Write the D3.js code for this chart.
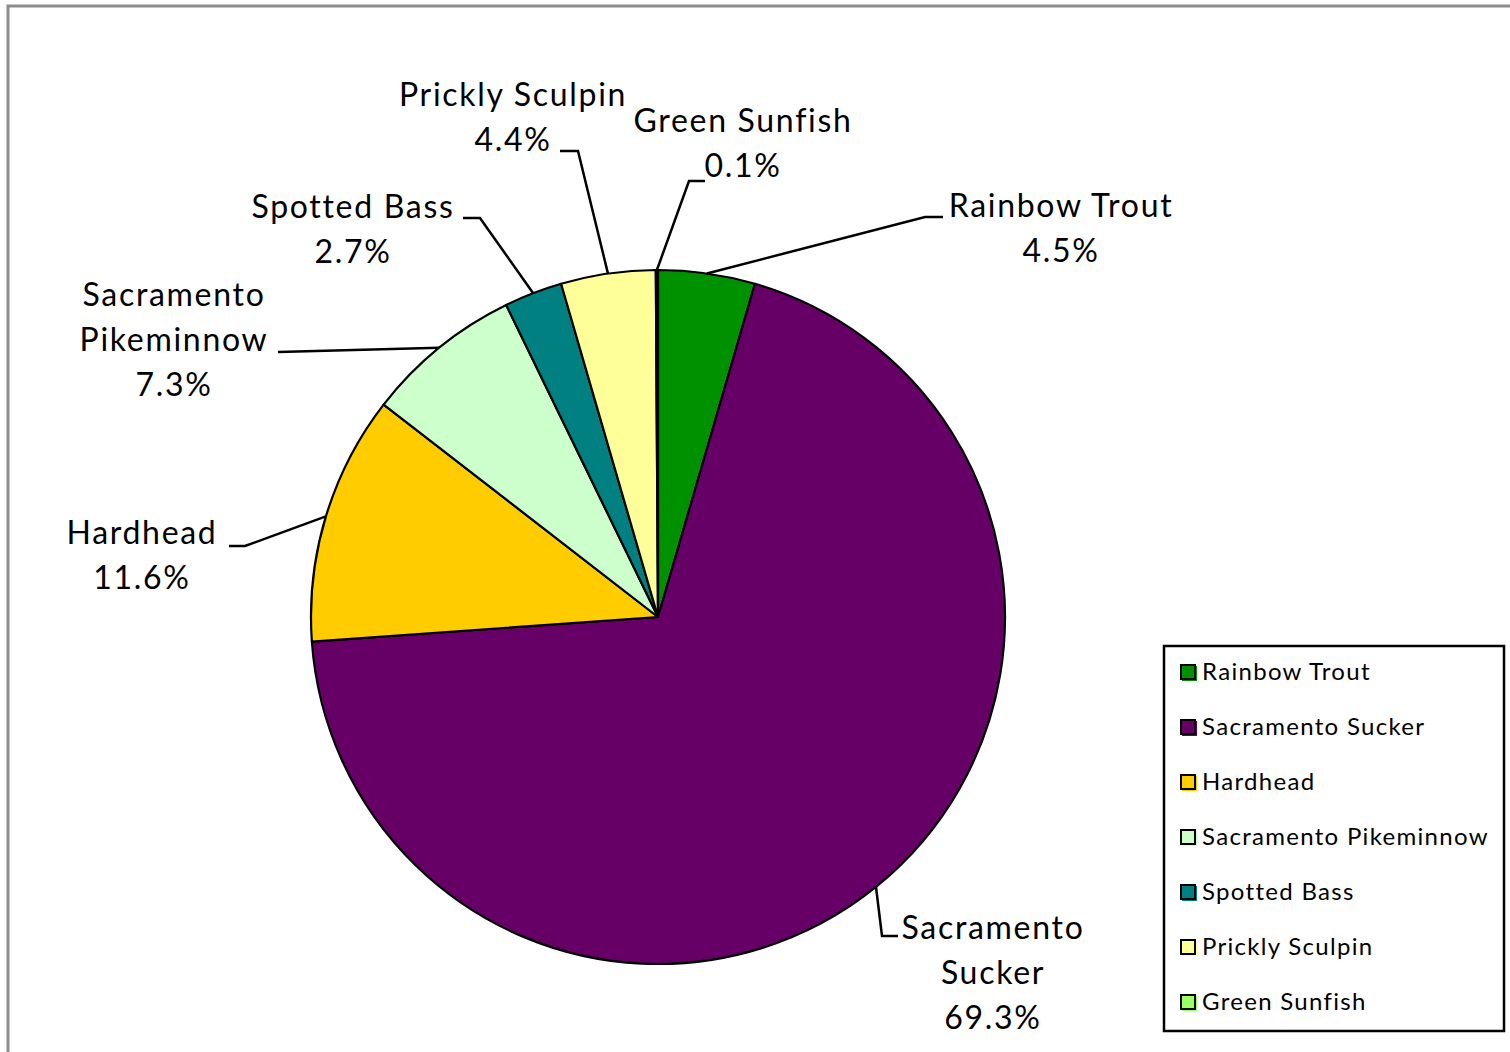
<!DOCTYPE html>
<html>
<head>
<meta charset="utf-8">
<script src="https://cdn.jsdelivr.net/npm/d3@7"></script>
<style>
  body { margin: 0; background: #fff; }
  svg text { font-family: Lato, "Open Sans", sans-serif; fill: #000; }
</style>
</head>
<body>
<div id="chart"></div>
<script>
// Data
const species = ["Rainbow Trout", "Sacramento Sucker", "Hardhead", "Sacramento Pikeminnow",
  "Spotted Bass", "Prickly Sculpin", "Green Sunfish"];
const percents = [4.5, 69.3, 11.6, 7.3, 2.7, 4.4, 0.1];
const colors = ["#009100", "#660066", "#ffcc00", "#ccffcc", "#008080", "#ffff99", "#99ff66"];
// label text lines (name split as drawn on the chart)
const labelLines = [
  ["Rainbow Trout"], ["Sacramento", "Sucker"], ["Hardhead"], ["Sacramento", "Pikeminnow"],
  ["Spotted Bass"], ["Prickly Sculpin"], ["Green Sunfish"]
];

// Label layout: text center x, first baseline y, elbow point and end of leader
const labelLayout = [
  { x: 1061, y: 217, elbow: [925, 217], end: [943, 217] },
  { x: 993, y: 939, elbow: [882, 936], end: [898, 936] },
  { x: 142, y: 544, elbow: [245, 546], end: [229, 546] },
  { x: 174, y: 306, elbow: [278, 352], end: [278, 352] },
  { x: 353, y: 218, elbow: [480, 218], end: [463, 218] },
  { x: 513, y: 106, elbow: [578, 151], end: [560, 151] },
  { x: 743, y: 132, elbow: [689, 181], end: [705, 181] }
];

const W = 1510, H = 1052;
const cx = 658, cy = 617, radius = 347;
const lineH = 45;

const svg = d3.select("#chart").append("svg")
  .attr("width", W)
  .attr("height", H);

// outer frame (cut off at right and bottom)
svg.append("rect")
  .attr("x", 8).attr("y", 6)
  .attr("width", W + 20).attr("height", H + 20)
  .attr("fill", "none")
  .attr("stroke", "#8c8c8c")
  .attr("stroke-width", 3);

const data = species.map((s, i) => ({ name: s, value: percents[i], color: colors[i], i: i }));

const pie = d3.pie().value(d => d.value).sort(null);
const arcs = pie(data);
const arc = d3.arc().innerRadius(0).outerRadius(radius);

const g = svg.append("g").attr("transform", `translate(${cx},${cy})`);

g.selectAll("path")
  .data(arcs)
  .join("path")
  .attr("d", arc)
  .attr("fill", d => d.data.color)
  .attr("stroke", "#000")
  .attr("stroke-width", 2.2)
  .attr("stroke-linejoin", "round");

// leader lines
arcs.forEach(a => {
  const mid = (a.startAngle + a.endAngle) / 2;
  const sx = cx + radius * Math.sin(mid);
  const sy = cy - radius * Math.cos(mid);
  const L = labelLayout[a.data.i];
  svg.append("polyline")
    .attr("points", [[sx, sy], L.elbow, L.end].map(p => p.join(",")).join(" "))
    .attr("fill", "none")
    .attr("stroke", "#000")
    .attr("stroke-width", 2.5);
});

// data labels
arcs.forEach(a => {
  const L = labelLayout[a.data.i];
  const lines = labelLines[a.data.i].concat([d3.format(".1f")(a.data.value) + "%"]);
  const t = svg.append("text")
    .attr("text-anchor", "middle")
    .style("font-size", "32px")
    .style("letter-spacing", "1.7px");
  lines.forEach((ln, k) => {
    t.append("tspan")
      .attr("x", L.x)
      .attr("y", L.y + k * lineH)
      .text(ln);
  });
});

// legend
const legend = svg.append("g").attr("transform", "translate(1164,646)");
legend.append("rect")
  .attr("width", 340).attr("height", 385)
  .attr("fill", "#fff")
  .attr("stroke", "#000")
  .attr("stroke-width", 2.5);

const item = legend.selectAll("g.item")
  .data(data)
  .join("g")
  .attr("class", "item")
  .attr("transform", (d, i) => `translate(0,${26 + i * 55})`);

item.append("rect")
  .attr("x", 18).attr("y", -6)
  .attr("width", 15).attr("height", 15)
  .attr("fill", d => d.color);

item.append("rect")
  .attr("x", 17).attr("y", -7)
  .attr("width", 14).attr("height", 14)
  .attr("fill", d => d.color)
  .attr("stroke", "#000")
  .attr("stroke-width", 2);

item.append("text")
  .attr("x", 38)
  .attr("y", 8)
  .style("font-size", "24px")
  .style("letter-spacing", "1.3px")
  .text(d => d.name);
</script>
</body>
</html>
